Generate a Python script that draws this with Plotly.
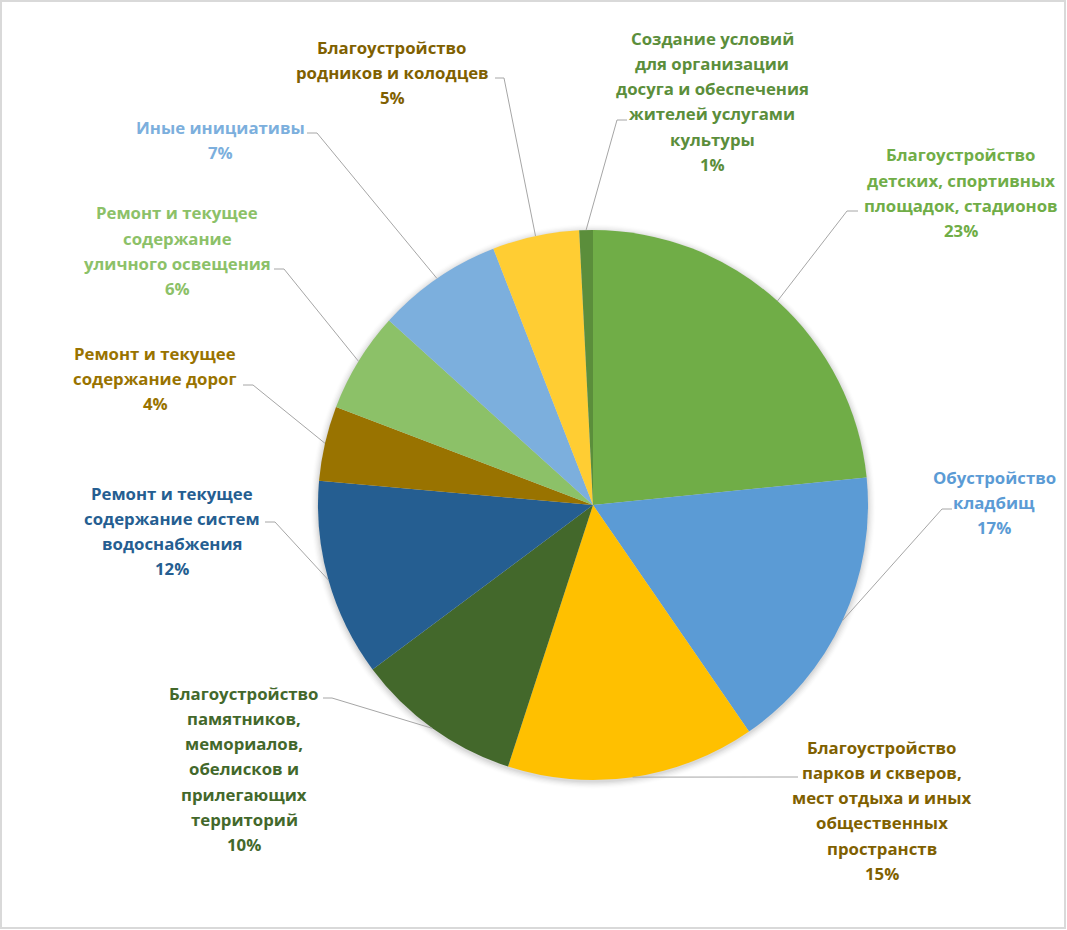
import math
import plotly.graph_objects as go

# ---- data ----
categories = [
    "Благоустройство детских, спортивных площадок, стадионов",
    "Обустройство кладбищ",
    "Благоустройство парков и скверов, мест отдыха и иных общественных пространств",
    "Благоустройство памятников, мемориалов, обелисков и прилегающих территорий",
    "Ремонт и текущее содержание систем водоснабжения",
    "Ремонт и текущее содержание дорог",
    "Ремонт и текущее содержание уличного освещения",
    "Иные инициативы",
    "Благоустройство родников и колодцев",
    "Создание условий для организации досуга и обеспечения жителей услугами культуры",
]
values = [23.4, 17.0, 14.6, 9.8, 11.6, 4.4, 5.9, 7.4, 5.1, 0.8]

# label line breaks as in the picture
label_lines = [
    ["Благоустройство", "детских, спортивных", "площадок, стадионов"],
    ["Обустройство", "кладбищ"],
    ["Благоустройство", "парков и скверов,", "мест отдыха и иных", "общественных", "пространств"],
    ["Благоустройство", "памятников,", "мемориалов,", "обелисков и", "прилегающих", "территорий"],
    ["Ремонт и текущее", "содержание систем", "водоснабжения"],
    ["Ремонт и текущее", "содержание дорог"],
    ["Ремонт и текущее", "содержание", "уличного освещения"],
    ["Иные инициативы"],
    ["Благоустройство", "родников и колодцев"],
    ["Создание условий", "для организации", "досуга и обеспечения", "жителей услугами", "культуры"],
]

# ---- styles ----
slice_colors = ["#70AD47", "#5B9BD5", "#FFC000", "#43682B", "#255E91",
                "#997300", "#8CC168", "#7CAFDD", "#FFCD33", "#5B8E3B"]
text_colors = ["#70AD47", "#5B9BD5", "#7F6000", "#43682B", "#255E91",
               "#997300", "#8CC168", "#7CAFDD", "#7F6000", "#5B8E3B"]

W, H = 1067, 930
CX, CY, R = 593, 505, 275
FONT = "Open Sans"
FSIZE = 16.8
LINE_H = 25.3
LEADER = "#A6A6A6"

# label layout: (center x, first line y, horizontal start x, elbow x, elbow y)
label_layout = [
    (961, 155, 858, 847, 211),
    (994, 477, 952, 942, 509),
    (882, 747, 798, 788, 777),
    (244, 693, 323, 332, 698),
    (172, 493, 265, 275, 522),
    (155, 353, 243, 253, 385),
    (177, 213, 274, 284, 269),
    (220, 127, 307, 317, 133),
    (392, 47, 495, 504, 78),
    (712, 38, 627, 617, 120),
]


def px(x):
    return x / W


def py(y):
    return 1 - y / H


fig = go.Figure()
fig.add_trace(go.Pie(
    labels=categories,
    values=values,
    sort=False,
    direction="clockwise",
    rotation=0,
    marker=dict(colors=slice_colors, line=dict(width=0)),
    textinfo="none",
    hoverinfo="label+percent",
    showlegend=False,
    domain=dict(x=[px(CX - R), px(CX + R)], y=[py(CY + R), py(CY - R)]),
))

total = sum(values)
pct_text = [f"{round(v / total * 100)}%" for v in values]

annotations = []
shapes = []

# soft shadow around the pie
for i, a in enumerate([0.018, 0.016, 0.013, 0.010, 0.007, 0.004]):
    rr = R + 1 + i * 1.3
    shapes.append(dict(type="circle", xref="paper", yref="paper",
                       x0=px(CX - rr), x1=px(CX + rr), y0=py(CY + rr + 1.5), y1=py(CY - rr + 1.5),
                       fillcolor=f"rgba(0,0,0,{a*2.2})", line=dict(width=0), layer="below"))

cum = 0.0
for i, v in enumerate(values):
    mid = (cum + v / 2) / total * 2 * math.pi
    cum += v
    ex = CX + R * math.sin(mid)
    ey = CY - R * math.cos(mid)
    lx, ly0, hx, bx, by = label_layout[i]
    # leader line: slice edge -> elbow -> label side
    shapes.append(dict(type="line", xref="paper", yref="paper",
                       x0=px(ex), y0=py(ey), x1=px(bx), y1=py(by),
                       line=dict(color=LEADER, width=1)))
    shapes.append(dict(type="line", xref="paper", yref="paper",
                       x0=px(bx), y0=py(by), x1=px(hx), y1=py(by),
                       line=dict(color=LEADER, width=1)))
    lines = label_lines[i] + [pct_text[i]]
    for j, t in enumerate(lines):
        annotations.append(dict(
            x=px(lx), y=py(ly0 + j * LINE_H), xref="paper", yref="paper",
            text=f"<b>{t}</b>", showarrow=False, xanchor="center", yanchor="middle",
            font=dict(family=FONT, size=FSIZE, color=text_colors[i]),
        ))

# chart border
shapes.append(dict(type="rect", xref="paper", yref="paper",
                   x0=px(1), x1=px(W - 2), y0=py(H - 2), y1=py(1),
                   line=dict(color="#D9D9D9", width=2), fillcolor="rgba(0,0,0,0)"))

fig.update_layout(
    width=W, height=H,
    margin=dict(l=0, r=0, t=0, b=0),
    paper_bgcolor="white",
    plot_bgcolor="white",
    annotations=annotations,
    shapes=shapes,
)

fig.write_html("out.html")
